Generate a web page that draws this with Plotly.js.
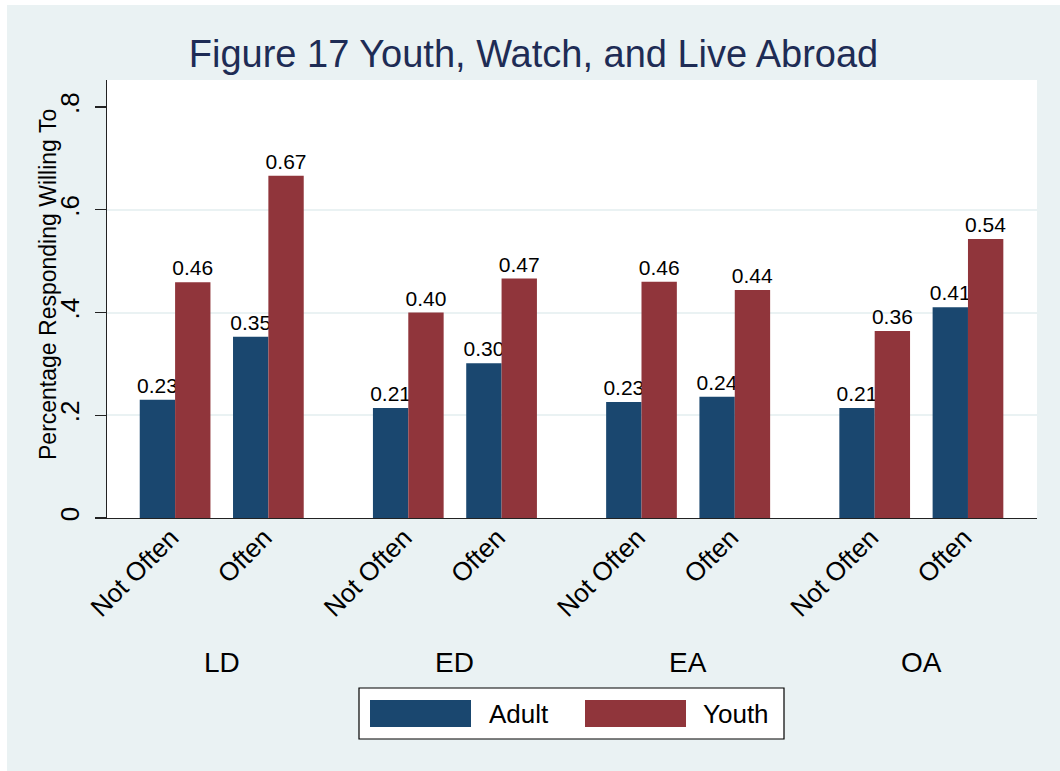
<!DOCTYPE html>
<html>
<head>
<meta charset="utf-8">
<script src="https://cdn.plot.ly/plotly-3.0.1.min.js"></script>
<style>
  html, body { margin: 0; padding: 0; background: #ffffff; }
  #chart { position: absolute; left: 7px; top: 5px; width: 1053px; height: 766px; }
</style>
</head>
<body>
<div id="chart"></div>
<script>
// ---- data ----
var groups = ['LD', 'ED', 'EA', 'OA'];
var frequency = ['Not Often', 'Often'];
var seriesNames = ['Adult', 'Youth'];
var adult = [0.230, 0.353, 0.214, 0.301, 0.226, 0.236, 0.214, 0.410];
var youth = [0.459, 0.666, 0.400, 0.466, 0.460, 0.444, 0.364, 0.543];
var yTickVals = [0, 0.2, 0.4, 0.6, 0.8];
var yTickText = ['0', '.2', '.4', '.6', '.8'];
var chartTitle = 'Figure 17 Youth, Watch, and Live Abroad';
var yTitle = 'Percentage Responding Willing To';

// ---- positions along a numeric axis (group index * 2.5 + sub index) ----
var xs = [], tickText = [];
groups.forEach(function (g, gi) {
  frequency.forEach(function (f, fi) {
    xs.push(gi * 2.5 + fi);
    tickText.push(f);
  });
});

var FONT = 'Liberation Sans, Arial, Helvetica, sans-serif';
var colors = ['#1a476f', '#90353b'];
var BG = '#eaf2f3';

function barTrace(vals, i) {
  return {
    type: 'bar', x: xs, y: vals, name: seriesNames[i],
    marker: { color: colors[i], line: { width: 0 } },
    text: vals.map(function (v) { return v.toFixed(2); }),
    textposition: 'outside', constraintext: 'none', cliponaxis: false,
    textfont: { family: FONT, size: 21, color: '#000000' },
    hoverinfo: 'x+y', showlegend: false
  };
}

var traces = [barTrace(adult, 0), barTrace(youth, 1),
  { type: 'scatter', x: [], y: [], yaxis: 'y2', showlegend: false, hoverinfo: 'skip' }];

// pixel -> paper helpers (plot area spans 930 x 438 px)
function px(x) { return (x - 107) / 930; }
function py(y) { return (518 - y) / 438; }

var annotations = groups.map(function (g, gi) {
  return { text: g, x: gi * 2.5 + 0.5, xref: 'x', y: py(662), yref: 'paper',
    xanchor: 'center', yanchor: 'middle', showarrow: false,
    font: { family: FONT, size: 28, color: '#000000' } };
});
annotations.push({ text: seriesNames[0], x: px(487), y: py(714), xref: 'paper', yref: 'paper',
  xanchor: 'left', yanchor: 'middle', showarrow: false, font: { family: FONT, size: 26, color: '#000' } });
annotations.push({ text: seriesNames[1], x: px(701), y: py(714), xref: 'paper', yref: 'paper',
  xanchor: 'left', yanchor: 'middle', showarrow: false, font: { family: FONT, size: 26, color: '#000' } });
// y-axis title
annotations.push({ text: yTitle, x: px(48), y: py(285), xref: 'paper', yref: 'paper', textangle: -90,
  xanchor: 'center', yanchor: 'middle', showarrow: false, font: { family: FONT, size: 23, color: '#000' } });

var shapes = [
  { type: 'rect', xref: 'paper', yref: 'paper', x0: px(359), x1: px(784), y0: py(739), y1: py(688),
    fillcolor: '#ffffff', line: { color: '#000000', width: 1.2 } },
  { type: 'rect', xref: 'paper', yref: 'paper', x0: px(370), x1: px(471), y0: py(727), y1: py(700),
    fillcolor: colors[0], line: { width: 0 } },
  { type: 'rect', xref: 'paper', yref: 'paper', x0: px(585), x1: px(686), y0: py(727), y1: py(700),
    fillcolor: colors[1], line: { width: 0 } }
];

var yRange = [0, 0.8526];
var layout = {
  width: 1053, height: 766,
  paper_bgcolor: BG, plot_bgcolor: '#ffffff',
  margin: { l: 100, r: 23, t: 75, b: 253 },
  font: { family: FONT, color: '#000000' },
  title: { text: chartTitle, font: { family: FONT, size: 38, color: '#1e2c55' },
    x: 0.5, xref: 'container', xanchor: 'center', y: 1 - (54 - 5) / 766, yref: 'container', yanchor: 'middle' },
  barmode: 'group', bargap: 0.242, bargroupgap: 0,
  showlegend: false,
  xaxis: {
    range: [-0.73, 9.24], tickmode: 'array', tickvals: xs, ticktext: tickText,
    tickangle: -45, ticks: '', showgrid: false, zeroline: false,
    showline: true, linecolor: '#222222', linewidth: 1.2,
    tickfont: { family: FONT, size: 26, color: '#000' }, ticklabelshift: -4, ticklabelstandoff: -7,
    fixedrange: true
  },
  yaxis: {
    range: yRange, tickmode: 'array', tickvals: yTickVals, ticktext: yTickText,
    tickangle: -90, ticks: 'outside', ticklen: 11, tickwidth: 1.2, tickcolor: '#222222',
    showline: true, linecolor: '#222222', linewidth: 1.2, showgrid: false, zeroline: false,
    tickfont: { family: FONT, size: 26, color: '#000' }, ticklabelstandoff: 5,
    fixedrange: true
  },
  yaxis2: {
    overlaying: 'y', range: yRange, tickmode: 'array', tickvals: [0.2, 0.4, 0.6],
    showgrid: true, gridcolor: BG, gridwidth: 2, showticklabels: false, ticks: '',
    showline: false, zeroline: false, fixedrange: true
  },
  annotations: annotations,
  shapes: shapes
};

Plotly.newPlot('chart', traces, layout, { displayModeBar: false, staticPlot: true });
</script>
</body>
</html>
